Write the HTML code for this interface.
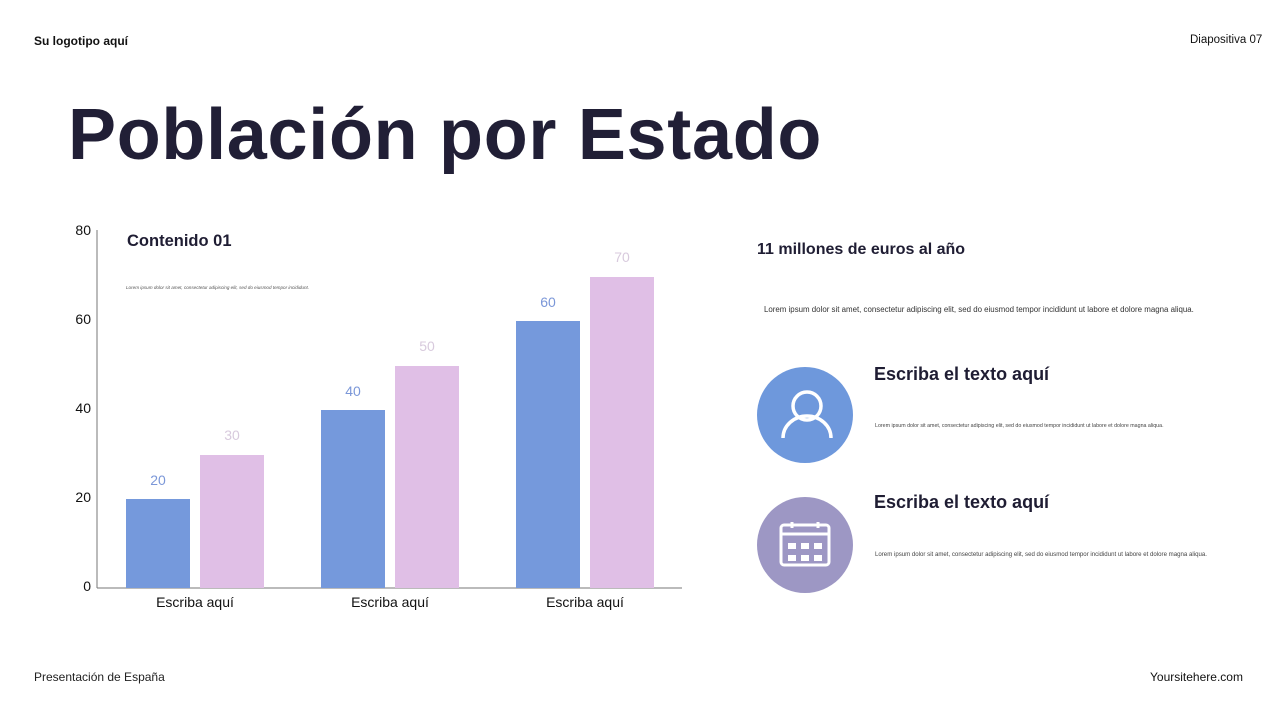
<!DOCTYPE html>
<html><head><meta charset="utf-8"><style>
body{margin:0;width:1280px;height:720px;background:#fff;font-family:"Liberation Sans",sans-serif;position:relative;overflow:hidden;color:#1f1d33}
.a{position:absolute;white-space:nowrap}
</style></head><body>
<div class="a" style="left:34px;top:34px;font-size:12px;font-weight:bold;color:#111">Su logotipo aquí</div>
<div class="a" style="left:1190px;top:34px;font-size:11.5px;color:#111">Diapositiva 07</div>
<div class="a" style="left:68px;top:94px;font-size:72px;font-weight:bold;letter-spacing:0.7px;color:#211f36">Población por Estado</div>

<svg class="a" style="left:0;top:0" width="1280" height="720">
<line x1="97" y1="230" x2="97" y2="588" stroke="#777" stroke-width="1"/>
<line x1="97" y1="588" x2="682" y2="588" stroke="#777" stroke-width="1"/>
<g font-family="Liberation Sans" font-size="14" fill="#111" text-anchor="end">
<text x="91" y="235">80</text><text x="91" y="324">60</text><text x="91" y="413">40</text><text x="91" y="502">20</text><text x="91" y="591">0</text></g>
<g fill="#7599dc"><rect x="126" y="499" width="64" height="89"/><rect x="321" y="410" width="64" height="178"/><rect x="516" y="321" width="64" height="267"/></g>
<g fill="#e0bfe6"><rect x="200" y="455" width="64" height="133"/><rect x="395" y="366" width="64" height="222"/><rect x="590" y="277" width="64" height="311"/></g>
<g font-family="Liberation Sans" font-size="14" text-anchor="middle">
<g fill="#7b97d8"><text x="158" y="485">20</text><text x="353" y="396">40</text><text x="548" y="307">60</text></g>
<g fill="#d8cadd"><text x="232" y="440">30</text><text x="427" y="351">50</text><text x="622" y="262">70</text></g>
<g fill="#111"><text x="195" y="607">Escriba aquí</text><text x="390" y="607">Escriba aquí</text><text x="585" y="607">Escriba aquí</text></g>
</g>
<circle cx="805" cy="415" r="48" fill="#6e98dc"/>
<g stroke="#fff" stroke-width="3.5" fill="none"><circle cx="807" cy="406" r="14"/><path d="M783 438 A24 22 0 0 1 831 438"/></g>
<circle cx="805" cy="545" r="48" fill="#9d97c4"/>
<g stroke="#fff" stroke-width="3" fill="none"><rect x="781" y="525" width="48" height="40" rx="3"/><line x1="781" y1="534" x2="829" y2="534"/><line x1="792" y1="522" x2="792" y2="528"/><line x1="818" y1="522" x2="818" y2="528"/></g>
<g fill="#fff"><rect x="788" y="543" width="8" height="6"/><rect x="801" y="543" width="8" height="6"/><rect x="814" y="543" width="8" height="6"/><rect x="788" y="555" width="8" height="6"/><rect x="801" y="555" width="8" height="6"/><rect x="814" y="555" width="8" height="6"/></g>
</svg>
<div class="a" style="left:127px;top:232px;font-size:16.5px;font-weight:bold">Contenido 01</div>
<div class="a" style="left:126px;top:285px;font-size:4.6px;font-style:italic;color:#555">Lorem ipsum dolor sit amet, consectetur adipiscing elit, sed do eiusmod tempor incididunt.</div>
<div class="a" style="left:757px;top:241px;font-size:16px;font-weight:bold">11 millones de euros al año</div>
<div class="a" style="left:764px;top:305px;font-size:7.9px;color:#333">Lorem ipsum dolor sit amet, consectetur adipiscing elit, sed do eiusmod tempor incididunt ut labore et dolore magna aliqua.</div>
<div class="a" style="left:874px;top:364px;font-size:18px;font-weight:bold">Escriba el texto aquí</div>
<div class="a" style="left:875px;top:423px;font-size:5.3px;color:#444">Lorem ipsum dolor sit amet, consectetur adipiscing elit, sed do eiusmod tempor incididunt ut labore et dolore magna aliqua.</div>
<div class="a" style="left:874px;top:492px;font-size:18px;font-weight:bold">Escriba el texto aquí</div>
<div class="a" style="left:875px;top:551px;font-size:6.1px;color:#444">Lorem ipsum dolor sit amet, consectetur adipiscing elit, sed do eiusmod tempor incididunt ut labore et dolore magna aliqua.</div>
<div class="a" style="left:34px;top:670px;font-size:12px;color:#222">Presentación de España</div>
<div class="a" style="left:1150px;top:670px;font-size:12px;color:#111">Yoursitehere.com</div>
</body></html>
